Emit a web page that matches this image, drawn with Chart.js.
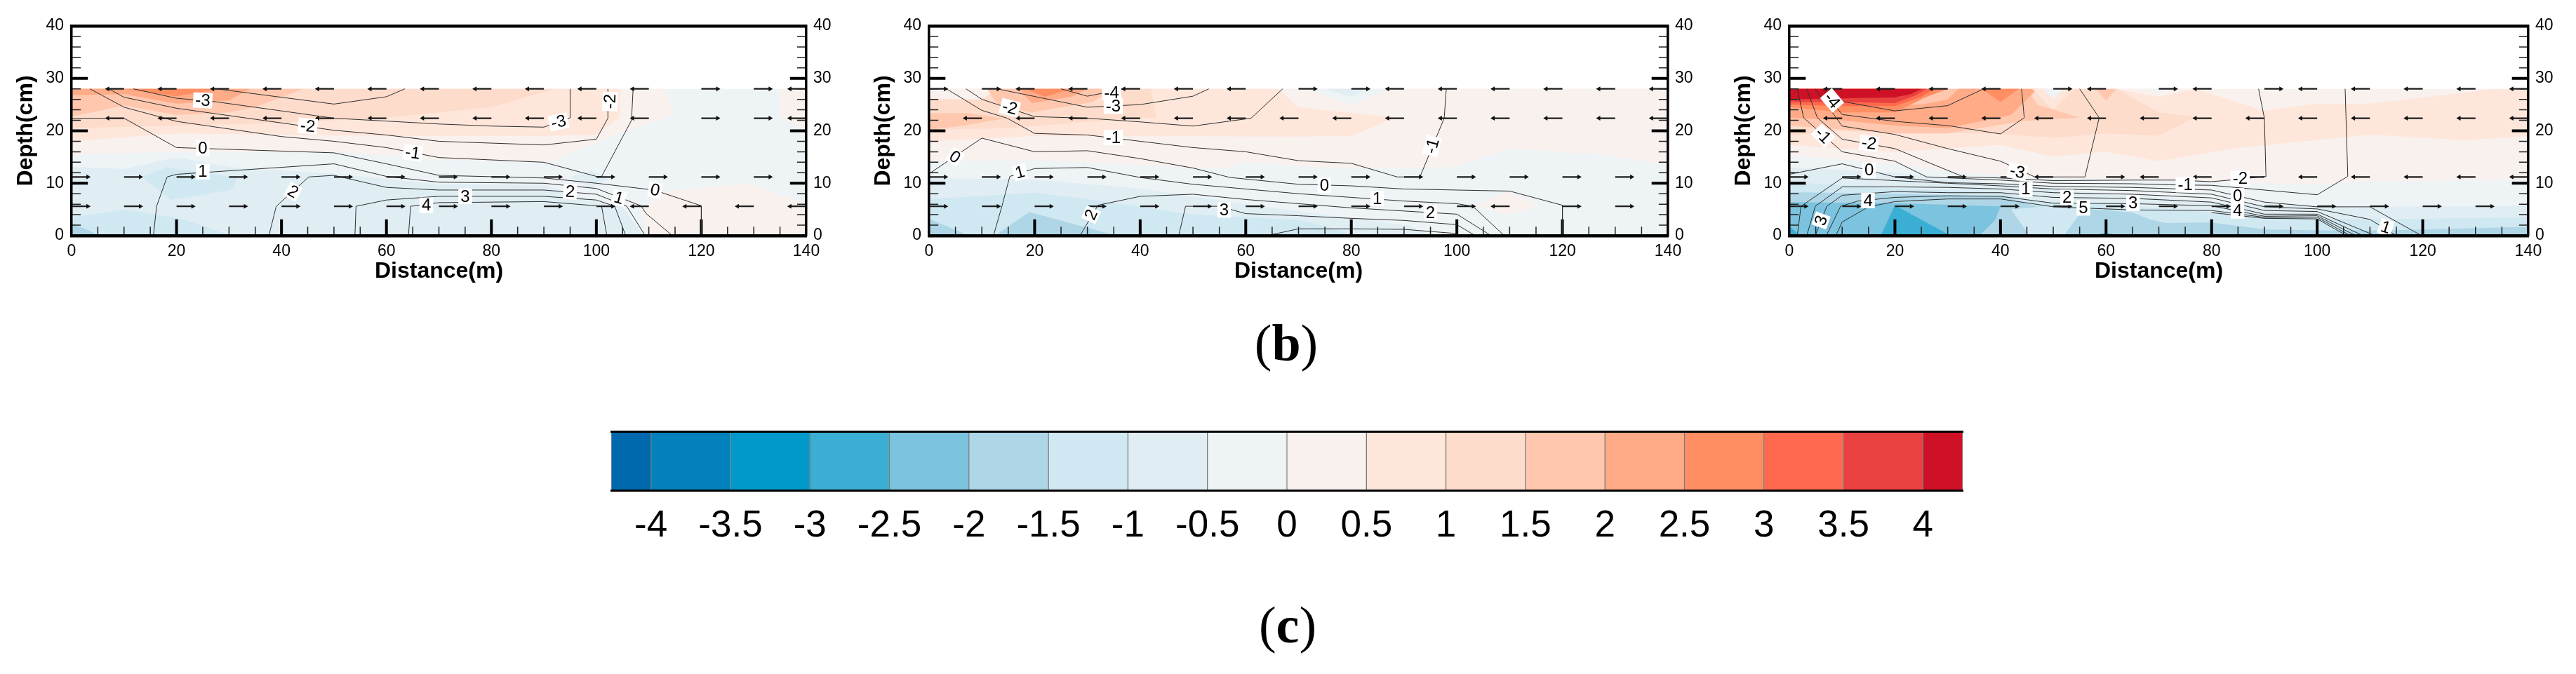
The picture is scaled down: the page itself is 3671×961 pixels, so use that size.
<!DOCTYPE html>
<html>
<head>
<meta charset="utf-8">
<title>Contour panels</title>
<script src="https://cdn.jsdelivr.net/npm/chart.js@4/dist/chart.umd.min.js"></script>
<style>
  html, body { margin: 0; padding: 0; background: #fff; width: 3671px; height: 961px; overflow: hidden; }
  canvas { position: absolute; }
  .cap { position: absolute; font-family: "Liberation Serif", serif; font-size: 74px; line-height: 74px; color: #000; width: 200px; text-align: center; }
</style>
</head>
<body>
<canvas id="panel1" style="left:0;top:0" width="1209" height="408"></canvas>
<canvas id="panel2" style="left:1222px;top:0" width="1215" height="408"></canvas>
<canvas id="panel3" style="left:2448px;top:0" width="1215" height="408"></canvas>
<canvas id="colorbar" style="left:800px;top:560px" width="2070" height="230"></canvas>
<div class="cap" style="left:1733px;top:452px">(<b>b</b>)</div>
<div class="cap" style="left:1735px;top:854px">(<b>c</b>)</div>

<script>
// colour scale
const levelColors = ['#0068AD', '#0281BC', '#0099C9', '#3BAED4', '#7BC3DE', '#AED6E7', '#D0E8F2', '#E0EEF4', '#EEF3F6',
    '#F9F1EE', '#FEE6DB', '#FDDCCB', '#FFC7AE', '#FFAB87', '#FF8E62', '#FF6A4E', '#E94140', '#CE1126'];
const colorEdges = [-4.25, -4, -3.5, -3, -2.5, -2, -1.5, -1, -0.5, 0, 0.5, 1, 1.5, 2, 2.5, 3, 3.5, 4, 4.25];
const colorTicks = [-4, -3.5, -3, -2.5, -2, -1.5, -1, -0.5, 0, 0.5, 1, 1.5, 2, 2.5, 3, 3.5, 4];

// axis ticks
const xMajor = [20, 40, 60, 80, 100, 120];
const xMinor = [5, 10, 15, 25, 30, 35, 45, 50, 55, 65, 70, 75, 85, 90, 95, 105, 110, 115, 125, 130, 135];
const yMajor = [10, 20, 30];
const yMinor = [2, 4, 6, 8, 12, 14, 16, 18, 22, 24, 26, 28, 32, 34, 36, 38];

// velocity arrows, one direction per node of arrowX
const arrowX = [0, 10, 20, 30, 40, 50, 60, 70, 80, 90, 100, 110, 120, 130, 140];
const arrowRows = [28, 22.4, 11.2, 5.6];
const p1Row28 = [-1, -1, -1, -1, -1, -1, -1, -1, -1, -1, -1, -1, 1, 1, -1];
const p1Row22 = [-1, -1, -1, -1, -1, -1, -1, -1, -1, -1, -1, -1, 1, 1, -1];
const p1Row11 = [1, 1, 1, 1, 1, 1, 1, 1, 1, 1, 1, 1, 1, 1, 1];
const p1Row5 = [1, 1, 1, 1, 1, 1, 1, 1, 1, 1, 1, -1, -1, -1, -1];
const p2Row28 = [1, 1, -1, -1, -1, -1, -1, 1, 1, -1, -1, -1, -1, -1, -1];
const p2Row22 = [-1, -1, -1, -1, -1, -1, -1, -1, -1, -1, -1, -1, -1, -1, -1];
const p2Row11 = [1, 1, 1, 1, 1, 1, 1, 1, 1, 1, 1, 1, 1, 1, 1];
const p2Row5 = [1, 1, 1, 1, 1, 1, 1, 1, 1, 1, 1, -1, 1, 1, 1];
const p3Row28 = [-1, -1, -1, -1, -1, 1, -1, 1, -1, 1, -1, -1, -1, -1, -1];
const p3Row22 = [-1, -1, -1, -1, -1, -1, -1, -1, -1, -1, -1, -1, -1, -1, -1];
const p3Row11 = [1, 1, 1, 1, 1, -1, 1, -1, -1, -1, -1, -1, -1, -1, -1];
const p3Row5 = [1, 1, 1, 1, 1, 1, 1, 1, 1, 1, 1, 1, 1, 1, 1];

// panel 1 contour lines
const p1LineTop = [[27.6, 28], [50, 25.1], [60, 26.5], [63.5, 28]];
const p1LineM3 = [[11.8, 28], [20, 26.2], [27, 25.6], [50, 22.4], [70, 21.3], [80, 20.9], [90, 20.7], [95, 22.5], [95, 28]];
const p1LineM2 = [[7.1, 28], [10, 26.4], [20, 24.3], [40, 21.5], [50, 20.1], [60, 19.2], [70, 18], [90, 17.3], [100, 18.4], [102.2, 22.4], [102.2, 28]];
const p1LineM1 = [[3.5, 28], [10, 24.5], [20, 21.8], [40, 18.9], [50, 18], [60, 16.8], [70, 14.9], [90, 14], [100, 11.3], [101, 11.3], [106.7, 22], [107, 28]];
const p1Line0 = [[0, 22.4], [10, 22.4], [20, 16.8], [50, 15.8], [60, 13.7], [70, 11.5], [90, 11], [100, 10], [111, 8.7], [120, 5.7], [120, 0]];
const p1Line1 = [[15.6, 0], [16.2, 5.6], [18.2, 11.2], [20, 11.7], [50, 13.7], [60, 11.3], [70, 10.2], [90, 10], [100, 9], [108.5, 5.7], [109.5, 4.2], [114.5, 0]];
const p1Line2 = [[37.6, 0], [39, 5.6], [45.2, 11.2], [50, 11.5], [60, 9.2], [70, 8.7], [90, 8.7], [100, 7.9], [105.8, 5.6], [109.3, 0]];
const p1Line3 = [[54, 0], [54.2, 5.6], [60, 6.8], [70, 7.5], [90, 7.5], [100, 6.8], [103.5, 5.6], [105.6, 0]];
const p1Line4 = [[64.2, 0], [64.6, 5.6], [70, 6.3], [90, 6.5], [100, 5.7], [101, 5.6], [102, 0]];

// panel 1 contour labels: x, y, text, angle
const p1Labels = [[25, 25.8, '-3', 3], [45, 20.9, '-2', 5], [65, 15.8, '-1', 8], [25, 16.7, '0', 0], [25, 12.2, '1', 0], [42.2, 8.4, '2', 30],
    [67.6, 5.8, '4', 0], [75, 7.5, '3', 0], [95, 8.4, '2', 3], [104.3, 7.2, '1', 15], [111.2, 8.7, '0', 12], [92.8, 21.7, '-3', -12], [102.6, 25.6, '-2', -88]];

// panel 1 filled levels
const p1Base = [[0, 0], [140, 0], [140, 28], [0, 28]];
const p1Pink = [[0, 15.5], [20, 16], [50, 16], [70, 14.5], [91, 14], [107, 20.5], [115, 23], [113, 28], [0, 28]];
const p1PinkEdge = [[135, 28], [135, 22.7], [140, 20], [140, 28]];
const p1Peach = [[0, 18], [20, 19.5], [60, 19], [90, 19], [100, 19.3], [104.5, 22.6], [104.5, 28], [0, 28]];
const p1Peach2 = [[0, 20.5], [20, 21], [40, 21.5], [60, 22.5], [80, 24.5], [92, 28], [0, 28]];
const p1Salmon = [[0, 22.7], [10, 24.8], [20, 23], [30, 23.5], [35, 24.5], [44, 28], [0, 28]];
const p1Orange = [[0, 26.8], [10, 27], [20, 25.2], [30, 25.8], [34, 28], [0, 28]];
const p1Core = [[10, 28], [20, 26.6], [28, 28]];
const p1Corner = [[0, 28], [0, 27.2], [5, 27.2], [7, 28]];
const p1Blue = [[0, 13.1], [10, 12.7], [20, 14.9], [31, 13], [50, 11.8], [60, 10.8], [70, 9.8], [90, 9.7], [100, 6.5], [105, 5.5], [109, 0], [0, 0]];
const p1BlueKnot = [[94.9, 11.1], [98.9, 12.4], [102.3, 10.8], [99, 9.1]];
const p1BlueCell = [[13.4, 11.2], [18, 13], [31.5, 11.1], [30.7, 8.8], [19, 6.8]];
const p1BlueLow = [[0, 3.5], [10, 5], [21, 3.2], [30.5, 0], [0, 0]];
const p1BlueCorner = [[0, 2.4], [5.5, 0], [0, 0]];
const p1PinkLow = [[110, 0], [108.5, 5], [113, 8.5], [129, 10], [140, 6], [140, 0]];

// panel 2 contour lines
const p2LineM4 = [[25, 28], [30, 26.6], [33, 27.2], [37, 28]];
const p2LineM3 = [[12.9, 28], [30, 24.5], [40, 25], [50, 26.6], [53, 28]];
const p2LineM2 = [[7, 28], [10, 26], [20, 22.7], [30, 22.4], [40, 21.7], [50, 20.9], [61, 22.4], [67, 28]];
const p2LineM1 = [[3.3, 28], [10, 23.9], [14.8, 22.4], [20, 19.5], [30, 19.2], [40, 18], [50, 16.8], [60, 16], [70, 14.3], [80, 13.8], [88.7, 11.2], [93, 11.2], [97.6, 22.4], [98, 28]];
const p2Line0 = [[0, 11.8], [10, 18.6], [20, 16], [30, 16.2], [40, 14.7], [50, 12.9], [57, 11.1], [70, 9.8], [80, 9.5], [90, 8.9], [110, 8.5], [120, 5.8], [120, 0]];
const p2Line1 = [[12.2, 0], [13.8, 5.6], [15.3, 11.3], [20, 12.8], [30, 13], [40, 11.1], [50, 9.8], [70, 8], [80, 7.3], [90, 6.6], [100, 6.1], [103, 5.6], [109, 0]];
const p2Line2 = [[28.6, 0], [32, 5.8], [40, 7.5], [50, 7.9], [60, 6.9], [80, 5.3], [100, 4.1], [106.5, 0]];
const p2Line3 = [[47.3, 0], [48.6, 5.6], [55, 5.6], [60, 4.2], [70, 3.8], [80, 3.3], [90, 2.9], [100, 2.1], [103.5, 0]];
const p2Line4 = [[64, 0], [70, 1.3], [80, 1.3], [90, 1.2], [100, 0.4]];

const p2Labels = [[34.6, 27.3, '-4', 0], [34.9, 24.7, '-3', 0], [15.3, 24.4, '-2', 15], [34.9, 18.7, '-1', 0], [4.9, 15, '0', 35], [17.2, 12.1, '1', -15],
    [30.7, 4, '2', -65], [55.9, 4.9, '3', 0], [74.9, 9.6, '0', 0], [84.9, 7.1, '1', 0], [95, 4.4, '2', 0], [95.3, 17.1, '-1', -75]];

// panel 2 filled levels
const p2Base = [[0, 0], [140, 0], [140, 28], [0, 28]];
const p2Pink = [[0, 14.2], [20, 14.4], [40, 13.5], [55, 12.7], [60, 14], [75, 13], [99, 13], [110, 16.6], [127, 15.5], [140, 13.5], [140, 28], [0, 28]];
const p2PaleV = [[71.4, 28], [80, 24.9], [87, 28]];
const p2BlueV = [[75, 28], [80, 26.5], [83, 28]];
const p2PinkKnot = [[103.4, 5.8], [109.6, 8.4], [115.8, 5.8], [109.6, 3.9]];
const p2Peach = [[0, 18], [20, 19], [70, 18.9], [80, 19], [88.3, 22.5], [70, 24.5], [66, 28], [0, 28]];
const p2Peach2 = [[0, 26], [10, 26], [13, 28], [42, 28], [43, 22.6], [30, 21.7], [15, 20.5], [0, 20.2]];
const p2PaleCorner = [[0, 28], [0, 26.2], [10, 26], [13, 28]];
const p2Salmon = [[0, 23.3], [7, 23.4], [14.2, 22.3], [6.5, 21], [0, 20.2]];
const p2SalmonTop = [[11, 28], [13, 25], [19.5, 23.5], [31, 25.5], [35, 28]];
const p2Orange = [[17, 28], [19.5, 25.3], [27, 26.5], [30, 28]];
const p2Core = [[18, 28], [22, 26.5], [27, 28]];
const p2Blue = [[0, 11], [20, 10.7], [40, 9], [50, 7.5], [60, 6], [70, 4.6], [91, 1.9], [95, 0], [0, 0]];
const p2BlueMid = [[0, 7], [20, 8.2], [30, 7], [50, 4], [70, 3], [78, 1], [80, 0], [0, 0]];
const p2BlueCorner = [[0, 3.2], [7.6, 0], [0, 0]];
const p2BlueWedge = [[12.5, 0], [19, 4.5], [35.5, 0]];

// panel 3 contour lines
const p3LineA = [[8, 28], [10, 25.6], [20, 23.8], [30, 24.8], [36.8, 28]];
const p3LineB = [[6.2, 28], [10, 23.1], [20, 21.8], [30, 21], [40, 19.4], [44.5, 22.5], [44, 28]];
const p3LineM3 = [[4.9, 28], [10, 20.9], [20, 19.3], [30, 16.6], [40, 14.2], [46.5, 11.2], [56, 11.2], [58.7, 22.5], [55, 28]];
const p3LineM2 = [[3.3, 28], [5.3, 22.5], [10, 18.4], [20, 16.6], [33, 11.2], [40, 11], [50, 10.5], [65, 10.6], [73, 10.6], [80, 10.3], [83.5, 10.6], [90.3, 11.3], [90, 22.4], [88.9, 28]];
const p3LineM1 = [[1.5, 28], [2.7, 22.5], [10, 16], [20, 14.2], [26, 11.2], [40, 10.6], [50, 10], [65, 9.9], [72, 9.7], [80, 9.6], [90, 8.7], [100, 7.8], [105.8, 11.3], [105.3, 28]];
const p3Line0 = [[0, 11.7], [10, 13.7], [20, 11.2], [30, 10.1], [40, 9.9], [50, 9.4], [65, 9.2], [80, 8.7], [90, 6.4], [100, 5.5], [110, 5.5], [119.8, 0]];
const p3Line1 = [[1.5, 0], [2.2, 5.6], [10, 11], [20, 10.5], [30, 10], [40, 9.5], [50, 8.9], [65, 8.6], [80, 7.9], [90, 5.5], [100, 5.1], [110, 3.1], [115, 0]];
const p3Line2 = [[3.3, 0], [4.9, 5.6], [10, 9.3], [20, 9.3], [30, 9.2], [40, 8.9], [50, 8.2], [65, 7.9], [80, 7.2], [90, 4.8], [100, 4.6], [111, 0]];
const p3Line3 = [[4.9, 0], [7.1, 5.6], [10, 7.7], [20, 8.4], [30, 8.2], [40, 8.2], [50, 7.3], [65, 7.1], [80, 6.4], [90, 4.1], [100, 4.1], [108.7, 0]];
const p3Line4 = [[7, 0], [9.7, 5.6], [13, 6.6], [20, 7.3], [30, 7.6], [40, 7.5], [50, 6.2], [65, 6.1], [80, 5.7], [90, 3.7], [100, 3.8], [107.3, 0]];
const p3Line5 = [[8.8, 0], [10, 2.6], [15, 5.5], [20, 6.5], [30, 7], [40, 7], [50, 5.5], [65, 4.9], [80, 4.8], [90, 3.5], [100, 3.5], [106.3, 0]];
const p3Line6 = [[80, 4.4], [90, 3.3], [100, 3.2], [105.6, 0]];

const p3Labels = [[8.1, 25.8, '-4', 50], [6.4, 19.1, '-1', 45], [15.1, 17.6, '-2', 8], [15.1, 12.5, '0', 0], [43.2, 12.2, '-3', 12], [44.8, 8.9, '1', 0],
    [52.6, 7.3, '2', 0], [55.7, 5.3, '5', 0], [65.1, 6.2, '3', 0], [75, 9.7, '-1', 0], [85.4, 10.9, '-2', 0], [84.9, 7.6, '0', 0], [84.9, 4.7, '4', 0],
    [14.9, 6.7, '4', 0], [6, 2.9, '3', -70], [113, 1.6, '1', 18]];

// panel 3 filled levels
const p3Base = [[0, 0], [140, 0], [140, 28], [0, 28]];
const p3Peach = [[0, 17.3], [20, 16], [40, 17.3], [50, 15.1], [60, 16], [70, 14.2], [84, 16.6], [110, 19.3], [128, 18.2], [140, 19], [140, 27.9], [134, 28], [110, 25.2], [100, 25.2], [90, 23.8], [77, 28], [0, 28]];
const p3Peach2 = [[0, 19.1], [10, 20], [20, 19.6], [30, 19.6], [40, 19.4], [50, 18.7], [60, 19.5], [70, 19.1], [77, 22.6], [70, 23.5], [62, 28], [0, 28]];
const p3Salmon = [[0, 21], [20, 19.5], [30, 19.5], [44, 21.8], [55, 22.5], [47, 25], [45, 28], [0, 28]];
const p3Orange = [[0, 22.5], [10, 22], [20, 21], [30, 20.5], [42, 23], [47, 28], [32, 28], [30, 26], [25, 25], [0, 25]];
const p3Coral = [[0, 24.5], [10, 23.5], [20, 23.5], [26, 26.5], [30, 28], [0, 28]];
const p3CoralV = [[36.5, 28], [40, 25.5], [43.5, 28]];
const p3Tomato = [[0, 25], [10, 24.7], [20, 24.7], [25, 26.5], [27.5, 28], [0, 28]];
const p3Red = [[0, 25.5], [10, 25.5], [20, 25.3], [24, 26.8], [26, 28], [0, 28]];
const p3DeepRed = [[0, 26], [10, 26.2], [20, 26.4], [23, 27], [25, 28], [0, 28]];
const p3SmallV = [[58, 28], [60, 25.8], [62, 28]];
const p3PaleV1 = [[46, 28], [50, 24], [54, 28]];
const p3PaleV1Core = [[48, 28], [50, 26], [52, 28]];
const p3PaleV2 = [[62, 28], [70, 26.5], [77, 28]];
const p3PaleV2Core = [[66, 28], [70, 27.5], [73, 28]];
const p3Pale = [[0, 15.3], [20, 13.6], [30, 12.3], [50, 11], [100, 9.8], [110, 10.4], [140, 10.6], [140, 0], [0, 0]];
const p3Blue = [[0, 13], [20, 12], [40, 10], [60, 8], [80, 6.5], [100, 5.5], [108.5, 5.5], [140, 5.7], [140, 0], [0, 0]];
const p3BlueMid = [[0, 10.2], [20, 9], [40, 8.3], [47, 6.5], [60, 6], [80, 4.4], [90, 3.9], [100, 3.2], [110, 3.1], [140, 3.5], [140, 0], [0, 0]];
const p3BlueDeep = [[0, 8.3], [20, 8], [40, 7.5], [47, 5.6], [50, 5.7], [65, 4.4], [70, 2.4], [80, 2.5], [90, 1.2], [100, 1], [113.6, 1], [140, 1.7], [140, 0], [0, 0]];
const p3BlueGap = [[45.5, 0], [42, 5], [49, 5.7], [56, 5.5], [52, 0]];
const p3BlueFoot = [[52, 0], [60, 5], [70, 2.7], [80, 0]];
const p3Blue4 = [[0, 6.4], [20, 6.2], [40, 5.6], [39, 3], [36, 0], [0, 0]];
const p3Blue3 = [[17.3, 0], [20, 5.8], [30, 0.3]];
const p3Blue3Corner = [[0, 1.8], [2, 0], [0, 0]];
const p3Blue3Foot = [[57, 0], [60, 0.5], [63, 0]];

const arrowLength = 3.1;
const xTickMajor = 3.1, xTickMinor = 1.7, yTickMajor = 3.1, yTickMinor = 1.75;
const lineColor = '#2f2f2f';

function toPoints(pairs) {
    return pairs.map(function (p) { return { x: p[0], y: p[1] }; });
}

function polygon(level, pairs) {
    return {
        data: toPoints(pairs),
        showLine: true,
        fill: 'shape',
        backgroundColor: levelColors[level],
        borderColor: levelColors[level],
        borderWidth: 0,
        pointRadius: 0
    };
}

function contour(pairs) {
    return { data: toPoints(pairs), showLine: true, borderColor: lineColor, borderWidth: 1, pointRadius: 0 };
}

function tickMarks(width, color, segments) {
    let data = [];
    segments.forEach(function (s) {
        data.push({ x: s[0], y: s[1] }, { x: s[2], y: s[3] }, { x: null, y: null });
    });
    return { data: data, showLine: true, borderColor: color, borderWidth: width, pointRadius: 0 };
}

function frameTicks() {
    let major = [], minor = [];
    xMajor.forEach(function (v) { major.push([v, 0, v, xTickMajor]); });
    xMinor.forEach(function (v) { minor.push([v, 0, v, xTickMinor]); });
    yMajor.forEach(function (v) {
        major.push([0, v, yTickMajor, v]);
        major.push([140, v, 140 - yTickMajor, v]);
    });
    yMinor.forEach(function (v) {
        minor.push([0, v, yTickMinor, v]);
        minor.push([140, v, 140 - yTickMinor, v]);
    });
    return [tickMarks(1.5, '#222', minor), tickMarks(4, '#000', major)];
}

function arrows(rows) {
    let shafts = [], heads = [], angles = [];
    rows.forEach(function (dirs, r) {
        dirs.forEach(function (d, i) {
            let x = arrowX[i], y = arrowRows[r];
            shafts.push({ x: x, y: y }, { x: x + d * arrowLength, y: y }, { x: null, y: null });
            heads.push({ x: x + d * arrowLength, y: y });
            angles.push(d > 0 ? 90 : -90);
        });
    });
    return [
        { data: shafts, showLine: true, borderColor: '#1c1c1c', borderWidth: 2.2, pointRadius: 0 },
        { data: heads, showLine: false, pointStyle: 'triangle', pointRadius: 4, pointRotation: angles, backgroundColor: '#111', borderColor: '#111', borderWidth: 0 }
    ];
}

// white boxed labels that sit on the contour lines
const contourLabelPlugin = {
    id: 'contourLabels',
    afterDatasetsDraw: function (chart) {
        let items = chart.options.plugins.contourLabels.items;
        let ctx = chart.ctx;
        ctx.save();
        ctx.font = '24px "Liberation Sans", Arial, sans-serif';
        ctx.textAlign = 'center';
        ctx.textBaseline = 'middle';
        items.forEach(function (it) {
            let px = chart.scales.x.getPixelForValue(it[0]);
            let py = chart.scales.y.getPixelForValue(it[1]);
            let w = ctx.measureText(it[2]).width + 6;
            ctx.save();
            ctx.translate(px, py);
            ctx.rotate(it[3] * Math.PI / 180);
            ctx.fillStyle = '#fff';
            ctx.fillRect(-w / 2, -11, w, 22);
            ctx.fillStyle = '#000';
            ctx.fillText(it[2], 0, 1);
            ctx.restore();
        });
        ctx.restore();
    }
};

const tickFont = { family: '"Liberation Sans", Arial, sans-serif', size: 23 };
const titleFont = { family: '"Liberation Sans", Arial, sans-serif', size: 32, weight: 'bold' };
const frame = function (width) { return { display: true, color: '#000', width: width, z: 1 }; };
const noGrid = { drawOnChartArea: false, drawTicks: false };

function makePanel(id, plotWidth, fields, lines, labels, rows) {
    let ds = [];
    fields.forEach(function (f) { ds.push(polygon(f[0], f[1])); });
    frameTicks().forEach(function (d) { ds.push(d); });
    lines.forEach(function (l) { ds.push(contour(l)); });
    arrows(rows).forEach(function (d) { ds.push(d); });
    // first entry painted first
    ds.forEach(function (d, i) { d.order = ds.length - i; });

    new Chart(document.getElementById(id), {
        type: 'scatter',
        data: { datasets: ds },
        plugins: [contourLabelPlugin],
        options: {
            responsive: false,
            animation: false,
            events: [],
            layout: { padding: 0 },
            plugins: {
                legend: { display: false },
                tooltip: { enabled: false },
                contourLabels: { items: labels }
            },
            scales: {
                x: {
                    type: 'linear', position: 'bottom', min: 0, max: 140,
                    grid: noGrid, border: frame(4.5),
                    ticks: { stepSize: 20, font: tickFont, color: '#000', padding: 9, maxRotation: 0, autoSkip: false },
                    title: { display: true, text: 'Distance(m)', font: titleFont, color: '#000', padding: { top: 0, bottom: 2 } },
                    afterFit: function (s) { s.height = 72; }
                },
                xTop: {
                    type: 'linear', position: 'top', min: 0, max: 140,
                    grid: noGrid, border: frame(4.5),
                    ticks: { display: false },
                    afterFit: function (s) { s.height = 37; }
                },
                y: {
                    type: 'linear', position: 'left', min: 0, max: 40,
                    grid: noGrid, border: frame(3.5),
                    ticks: { stepSize: 10, font: tickFont, color: '#000', padding: 11, autoSkip: false },
                    title: { display: true, text: 'Depth(cm)', font: titleFont, color: '#000', padding: { top: 18, bottom: 0 } },
                    afterFit: function (s) { s.width = 102; }
                },
                yRight: {
                    type: 'linear', position: 'right', min: 0, max: 40,
                    grid: noGrid, border: frame(3.5),
                    ticks: { stepSize: 10, font: tickFont, color: '#000', padding: 10, autoSkip: false },
                    afterFit: function (s) { s.width = document.getElementById(id).width - 102 - plotWidth; }
                }
            }
        }
    });
}

makePanel('panel1', 1047,
    [[8, p1Base], [9, p1Pink], [9, p1PinkEdge], [10, p1Peach], [11, p1Peach2], [12, p1Salmon], [13, p1Orange], [14, p1Core], [13, p1Corner],
     [7, p1Blue], [7, p1BlueKnot], [6, p1BlueCell], [6, p1BlueLow], [5, p1BlueCorner], [9, p1PinkLow]],
    [p1LineTop, p1LineM3, p1LineM2, p1LineM1, p1Line0, p1Line1, p1Line2, p1Line3, p1Line4],
    p1Labels, [p1Row28, p1Row22, p1Row11, p1Row5]);

makePanel('panel2', 1053,
    [[8, p2Base], [9, p2Pink], [8, p2PaleV], [7, p2BlueV], [9, p2PinkKnot], [10, p2Peach], [11, p2Peach2], [9, p2PaleCorner], [12, p2Salmon], [12, p2SalmonTop],
     [13, p2Orange], [14, p2Core], [7, p2Blue], [6, p2BlueMid], [5, p2BlueCorner], [5, p2BlueWedge]],
    [p2LineM4, p2LineM3, p2LineM2, p2LineM1, p2Line0, p2Line1, p2Line2, p2Line3, p2Line4],
    p2Labels, [p2Row28, p2Row22, p2Row11, p2Row5]);

makePanel('panel3', 1053,
    [[9, p3Base], [10, p3Peach], [11, p3Peach2], [12, p3Salmon], [13, p3Orange], [14, p3CoralV], [14, p3Coral], [15, p3Tomato], [16, p3Red], [17, p3DeepRed],
     [12, p3SmallV], [10, p3PaleV1], [8, p3PaleV1Core], [9, p3PaleV2], [8, p3PaleV2Core],
     [8, p3Pale], [7, p3Blue], [6, p3BlueMid], [5, p3BlueDeep], [6, p3BlueGap], [5, p3BlueFoot], [4, p3Blue4], [3, p3Blue3], [3, p3Blue3Corner], [3, p3Blue3Foot]],
    [p3LineA, p3LineB, p3LineM3, p3LineM2, p3LineM1, p3Line0, p3Line1, p3Line2, p3Line3, p3Line4, p3Line5, p3Line6],
    p3Labels, [p3Row28, p3Row22, p3Row11, p3Row5]);

// colour bar
new Chart(document.getElementById('colorbar'), {
    type: 'bar',
    data: {
        labels: [''],
        datasets: levelColors.map(function (c, i) {
            return {
                data: [[colorEdges[i], colorEdges[i + 1]]],
                backgroundColor: c,
                borderColor: 'rgba(0,0,0,0.45)',
                borderWidth: { left: 1, right: 1, top: 0, bottom: 0 },
                borderSkipped: false
            };
        })
    },
    options: {
        indexAxis: 'y',
        responsive: false,
        animation: false,
        events: [],
        layout: { padding: { left: 71, right: 73, top: 55, bottom: 0 } },
        plugins: { legend: { display: false }, tooltip: { enabled: false } },
        datasets: { bar: { grouped: false, barPercentage: 1, categoryPercentage: 1 } },
        scales: {
            y: { display: false },
            x: {
                type: 'linear', position: 'bottom', min: -4.25, max: 4.25,
                grid: noGrid, border: frame(3),
                afterBuildTicks: function (s) { s.ticks = colorTicks.map(function (v) { return { value: v }; }); },
                ticks: {
                    font: { family: '"Liberation Sans", Arial, sans-serif', size: 53 }, color: '#000',
                    padding: 20, maxRotation: 0, autoSkip: false,
                    callback: function (v) { return String(v); }
                },
                afterFit: function (s) { s.height = 91; }
            },
            xTop: {
                type: 'linear', position: 'top', min: -4.25, max: 4.25,
                grid: noGrid, border: frame(3),
                ticks: { display: false },
                afterFit: function (s) { s.height = 0; }
            }
        }
    }
});
</script>
</body>
</html>
